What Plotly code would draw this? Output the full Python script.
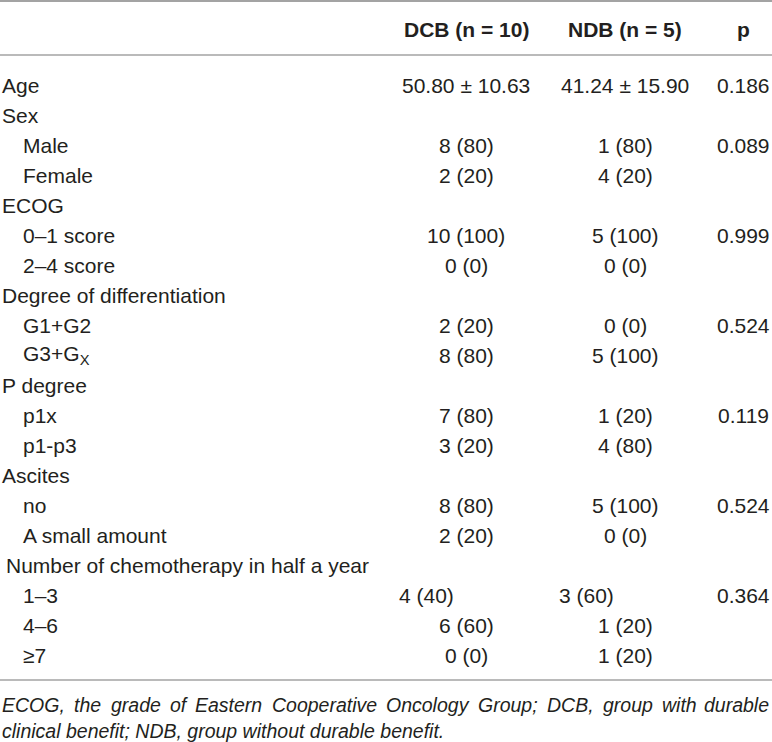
import plotly.graph_objects as go

# Table content
header = ["", "DCB (n = 10)", "NDB (n = 5)", "p"]

row_labels = [
    "Age", "Sex", "Male", "Female", "ECOG", "0–1 score", "2–4 score",
    "Degree of differentiation", "G1+G2", "G3+G<sub>X</sub>", "P degree", "p1x", "p1-p3",
    "Ascites", "no", "A small amount", "Number of chemotherapy in half a year",
    "1–3", "4–6", "≥7",
]
dcb_values = [
    "50.80 ± 10.63", "", "8 (80)", "2 (20)", "", "10 (100)", "0 (0)",
    "", "2 (20)", "8 (80)", "", "7 (80)", "3 (20)",
    "", "8 (80)", "2 (20)", "",
    "4 (40)", "6 (60)", "0 (0)",
]
ndb_values = [
    "41.24 ± 15.90", "", "1 (80)", "4 (20)", "", "5 (100)", "0 (0)",
    "", "0 (0)", "5 (100)", "", "1 (20)", "4 (80)",
    "", "5 (100)", "0 (0)", "",
    "3 (60)", "1 (20)", "1 (20)",
]
p_values = [
    "0.186", "", "0.089", "", "", "0.999", "",
    "", "0.524", "", "", "0.119", "",
    "", "0.524", "", "",
    "0.364", "", "",
]
footnote_line1 = "ECOG, the grade of Eastern Cooperative Oncology Group; DCB, group with durable"
footnote_line2 = "clinical benefit; NDB, group without durable benefit."

# Layout / style (kept apart from the data)
indent = [0, 0, 1, 1, 0, 1, 1, 0, 1, 1, 0, 1, 1, 0, 1, 1, 0.2, 1, 1, 1]
left_rows = {17}  # row "1–3" is left aligned in the original
W, H = 772, 742
ROW0, PITCH = 85, 30
HEAD_Y = 29
COL_X = {"dcb": 466, "ndb": 625, "p": 743}
COL_LEFT = {"dcb": 398, "ndb": 558}
FONT = "Liberation Sans, Arial, sans-serif"
TXT = "#231f20"
LINE = "#a3a3a3"
FS = 21
FS_NOTE = 19.5

# approx. Arial advance widths (em/1000) for justifying the footnote
AW = {' ': 278, ',': 278, '.': 278, ';': 278,
      'a': 556, 'b': 556, 'c': 500, 'd': 556, 'e': 556, 'f': 278, 'g': 556, 'h': 556,
      'i': 222, 'l': 222, 'n': 556, 'o': 556, 'p': 556, 'r': 333, 's': 500, 't': 278,
      'u': 556, 'v': 500, 'w': 722, 'y': 500, 'B': 667, 'C': 722, 'D': 722, 'E': 667,
      'G': 778, 'N': 722, 'O': 778}


def text_width(s, size):
    return sum(AW.get(ch, 556) for ch in s) / 1000 * size


fig = go.Figure()
ann = []


def add(x, y, text, anchor="left", size=FS, bold=False, italic=False):
    if bold:
        text = f"<b>{text}</b>"
    if italic:
        text = f"<i>{text}</i>"
    ann.append(dict(x=x, y=y, xref="x", yref="y", text=text, showarrow=False,
                    xanchor=anchor, yanchor="middle", borderpad=0,
                    font=dict(family=FONT, size=size, color=TXT)))


# header
add(COL_X["dcb"], HEAD_Y, header[1], "center", bold=True)
add(COL_X["ndb"], HEAD_Y, header[2], "center", bold=True)
add(COL_X["p"], HEAD_Y, header[3], "center", bold=True)

# body rows
for i, lab in enumerate(row_labels):
    y = ROW0 + i * PITCH
    add(1 + indent[i] * 21, y, lab)
    if i in left_rows:
        if dcb_values[i]:
            add(COL_LEFT["dcb"], y, dcb_values[i], "left")
        if ndb_values[i]:
            add(COL_LEFT["ndb"], y, ndb_values[i], "left")
    else:
        if dcb_values[i]:
            add(COL_X["dcb"], y, dcb_values[i], "center")
        if ndb_values[i]:
            add(COL_X["ndb"], y, ndb_values[i], "center")
    if p_values[i]:
        add(COL_X["p"], y, p_values[i], "center")

# footnote, first line justified across the full width
bottom_line = ROW0 + (len(row_labels) - 1) * PITCH + 25
note_y1 = bottom_line + 25
note_y2 = note_y1 + 26
words = footnote_line1.split(" ")
ww = [text_width(w, FS_NOTE) for w in words]
gap = (W - 2 - 1 - sum(ww)) / (len(words) - 1)
xpos = 1
for k, w in enumerate(words):
    if k == len(words) - 1:
        add(W - 2, note_y1, w, "right", size=FS_NOTE, italic=True)
    else:
        add(xpos, note_y1, w, "left", size=FS_NOTE, italic=True)
    xpos += ww[k] + gap
add(1, note_y2, footnote_line2, "left", size=FS_NOTE, italic=True)

# rules
shapes = []
for yl, wl in [(1, 2), (55, 1.6), (bottom_line, 1.6)]:
    shapes.append(dict(type="line", xref="x", yref="y", x0=0, x1=W, y0=yl, y1=yl,
                       line=dict(color=LINE, width=wl)))

fig.update_layout(
    width=W, height=H,
    margin=dict(l=0, r=0, t=0, b=0),
    paper_bgcolor="white", plot_bgcolor="white",
    xaxis=dict(range=[0, W], visible=False, fixedrange=True),
    yaxis=dict(range=[H, 0], visible=False, fixedrange=True),
    annotations=ann, shapes=shapes, showlegend=False,
)

fig.write_html("out.html", config={"displayModeBar": False},
               post_script="document.body.style.margin='0';document.body.style.overflow='hidden';")
